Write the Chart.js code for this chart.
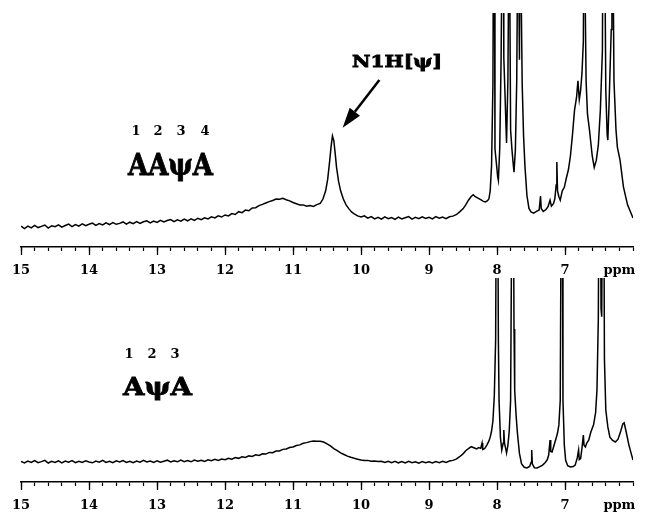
<!DOCTYPE html>
<html lang="en">
  <head>
    <meta charset="UTF-8" />
    <title>1H NMR imino region</title>
    <script src="https://cdn.jsdelivr.net/npm/chart.js@4.4.0/dist/chart.umd.min.js"></script>
    <style>
      body { margin: 0; background: #fff; }
      canvas { position: absolute; left: 0; }
      #top { top: 0; }
      #bottom { top: 270px; }
    </style>
  </head>
  <body>
    <canvas id="top" width="645" height="280"></canvas>
    <canvas id="bottom" width="645" height="245"></canvas>

    <script>
      // ppm range of both spectra (axis runs right to left)
      const ppmMax = 15;
      const ppmMin = 6;
      const majorTicks = [15, 14, 13, 12, 11, 10, 9, 8, 7];
      const unitLabel = "ppm";
      const unitTickAt = 6.2;

      // [ppm, intensity] (AAψA); 150 = off scale
      const spectrumAApsiA = [
        [15.0, 8.9], [14.95, 7.9], [14.9, 8.9], [14.85, 8.2], [14.8, 9.2], [14.75, 8.3], [14.7, 8.8], [14.65, 9.4],
        [14.6, 8.1], [14.55, 9.1], [14.5, 8.7], [14.45, 9.5], [14.4, 8.5], [14.35, 9.2], [14.3, 9.8], [14.25, 8.7],
        [14.2, 9.6], [14.15, 8.9], [14.1, 9.9], [14.05, 9.1], [14.0, 9.7], [13.95, 10.2], [13.9, 9.2], [13.85, 10.0],
        [13.8, 9.4], [13.75, 10.3], [13.7, 9.6], [13.65, 10.4], [13.6, 9.7], [13.55, 10.1], [13.5, 10.7], [13.45, 9.8],
        [13.4, 10.6], [13.35, 10.0], [13.3, 10.9], [13.25, 10.1], [13.2, 10.8], [13.15, 11.2], [13.1, 10.3], [13.05, 11.1],
        [13.0, 10.5], [12.95, 11.4], [12.9, 10.7], [12.85, 11.3], [12.8, 11.7], [12.75, 10.8], [12.7, 11.6], [12.65, 11.0],
        [12.6, 11.9], [12.55, 11.2], [12.5, 12.0], [12.45, 11.4], [12.4, 12.3], [12.35, 11.7], [12.3, 12.5], [12.25, 12.0],
        [12.2, 12.9], [12.15, 12.4], [12.1, 13.3], [12.05, 12.8], [12.0, 13.7], [11.95, 13.3], [11.9, 14.3], [11.85, 13.9],
        [11.8, 15.1], [11.75, 14.7], [11.7, 15.8], [11.65, 15.5], [11.6, 16.7], [11.55, 16.8], [11.5, 17.7], [11.45, 18.2],
        [11.4, 18.8], [11.35, 19.4], [11.3, 19.9], [11.25, 20.5], [11.2, 20.4], [11.15, 20.8], [11.1, 20.2], [11.05, 19.7],
        [11.0, 19.0], [10.95, 18.5], [10.9, 18.0], [10.85, 18.0], [10.8, 17.4], [10.75, 17.7], [10.7, 17.3], [10.65, 18.1],
        [10.6, 18.6], [10.56, 20.5], [10.52, 24.0], [10.49, 29.0], [10.46, 37.0], [10.44, 43.0], [10.42, 47.5], [10.4, 45.5],
        [10.38, 40.0], [10.36, 34.0], [10.33, 28.0], [10.3, 24.0], [10.26, 20.5], [10.22, 18.0], [10.18, 16.4], [10.14, 15.0],
        [10.1, 14.2], [10.05, 13.3], [10.0, 12.8], [9.95, 13.3], [9.9, 12.3], [9.85, 13.0], [9.8, 12.0], [9.75, 12.7],
        [9.7, 11.9], [9.65, 12.9], [9.6, 12.1], [9.55, 12.6], [9.5, 11.8], [9.45, 12.8], [9.4, 12.0], [9.35, 12.5],
        [9.3, 13.0], [9.25, 11.9], [9.2, 12.7], [9.15, 12.1], [9.1, 12.9], [9.05, 12.2], [9.0, 12.7], [8.95, 12.0],
        [8.9, 13.0], [8.85, 12.3], [8.8, 12.8], [8.75, 12.1], [8.7, 12.9], [8.65, 13.2], [8.6, 13.8], [8.55, 15.0],
        [8.5, 16.3], [8.46, 18.0], [8.42, 20.0], [8.38, 21.6], [8.35, 22.3], [8.32, 21.5], [8.28, 20.9], [8.24, 20.2],
        [8.2, 19.5], [8.17, 19.3], [8.14, 19.8], [8.12, 20.5], [8.1, 24.0], [8.08, 35.0], [8.06, 70.0], [8.05, 150],
        [8.04, 150], [8.03, 42.0], [8.01, 36.0], [7.99, 30.0], [7.98, 28.5], [7.96, 42.0], [7.94, 80.0], [7.92, 150],
        [7.91, 150], [7.9, 81.0], [7.88, 63.0], [7.86, 44.5], [7.84, 71.0], [7.82, 150], [7.81, 150], [7.8, 50.0],
        [7.78, 41.5], [7.76, 35.0], [7.75, 32.0], [7.73, 41.5], [7.71, 71.0], [7.69, 150], [7.68, 150], [7.67, 80.0],
        [7.66, 150], [7.65, 150], [7.63, 70.0], [7.61, 48.0], [7.59, 35.0], [7.56, 22.0], [7.53, 16.5], [7.5, 15.0],
        [7.46, 14.5], [7.42, 15.2], [7.38, 15.8], [7.36, 21.8], [7.35, 16.5], [7.32, 15.2], [7.28, 16.0], [7.25, 17.2],
        [7.22, 20.0], [7.2, 17.5], [7.17, 18.5], [7.15, 20.5], [7.13, 26.5], [7.12, 36.3], [7.11, 24.0], [7.09, 21.5],
        [7.07, 20.0], [7.04, 24.0], [7.01, 25.5], [6.98, 29.5], [6.95, 33.0], [6.92, 39.0], [6.89, 48.0], [6.86, 58.5],
        [6.83, 64.0], [6.81, 71.0], [6.79, 63.0], [6.77, 67.0], [6.75, 74.5], [6.73, 88.0], [6.72, 150], [6.71, 150],
        [6.69, 71.0], [6.67, 57.0], [6.64, 50.0], [6.6, 39.0], [6.57, 34.0], [6.54, 37.0], [6.51, 43.5], [6.48, 58.5],
        [6.45, 84.0], [6.44, 150], [6.42, 150], [6.4, 67.0], [6.38, 48.0], [6.37, 45.7], [6.35, 63.0], [6.32, 93.0],
        [6.31, 150], [6.3, 150], [6.28, 71.0], [6.25, 50.0], [6.23, 42.7], [6.19, 37.0], [6.14, 25.6], [6.08, 18.0],
        [6.03, 14.5], [6.0, 12.4],
      ];

      // [ppm, intensity] (AψA)
      const spectrumApsiA = [
        [15.0, 10.1], [14.95, 9.4], [14.9, 10.3], [14.85, 9.6], [14.8, 10.5], [14.75, 9.5], [14.7, 10.0], [14.65, 10.6],
        [14.6, 9.3], [14.55, 10.1], [14.5, 9.6], [14.45, 10.4], [14.4, 9.4], [14.35, 10.3], [14.3, 9.7], [14.25, 10.5],
        [14.2, 9.5], [14.15, 10.2], [14.1, 9.6], [14.05, 10.4], [14.0, 9.8], [13.95, 9.4], [13.9, 10.3], [13.85, 9.7],
        [13.8, 10.6], [13.75, 9.6], [13.7, 10.1], [13.65, 9.5], [13.6, 10.4], [13.55, 9.8], [13.5, 10.5], [13.45, 9.6],
        [13.4, 10.2], [13.35, 9.5], [13.3, 10.3], [13.25, 9.7], [13.2, 10.6], [13.15, 9.8], [13.1, 10.3], [13.05, 9.6],
        [13.0, 10.4], [12.95, 9.7], [12.9, 10.2], [12.85, 10.7], [12.8, 9.8], [12.75, 10.4], [12.7, 9.9], [12.65, 10.7],
        [12.6, 10.0], [12.55, 10.5], [12.5, 9.9], [12.45, 10.8], [12.4, 10.2], [12.35, 10.7], [12.3, 10.1], [12.25, 10.9],
        [12.2, 10.4], [12.15, 11.1], [12.1, 10.6], [12.05, 11.3], [12.0, 10.9], [11.95, 11.6], [11.9, 11.2], [11.85, 12.0],
        [11.8, 11.6], [11.75, 12.4], [11.7, 12.0], [11.65, 12.8], [11.6, 12.5], [11.55, 13.3], [11.5, 13.0], [11.45, 13.8],
        [11.4, 13.7], [11.35, 14.5], [11.3, 14.4], [11.25, 15.2], [11.2, 15.2], [11.15, 16.0], [11.1, 16.2], [11.05, 16.9],
        [11.0, 17.2], [10.95, 17.9], [10.9, 18.2], [10.85, 19.0], [10.8, 19.3], [10.75, 19.8], [10.7, 20.1], [10.65, 20.0],
        [10.6, 20.0], [10.55, 19.6], [10.5, 18.7], [10.45, 17.7], [10.4, 16.4], [10.35, 15.4], [10.3, 14.3], [10.25, 13.5],
        [10.2, 12.7], [10.15, 12.1], [10.1, 11.6], [10.05, 11.2], [10.0, 10.8], [9.95, 10.6], [9.9, 10.6], [9.85, 10.2],
        [9.8, 10.3], [9.75, 10.0], [9.7, 10.2], [9.65, 9.6], [9.6, 10.2], [9.55, 9.5], [9.5, 10.1], [9.45, 9.4],
        [9.4, 10.0], [9.35, 9.3], [9.3, 10.1], [9.25, 9.5], [9.2, 9.9], [9.15, 9.2], [9.1, 10.0], [9.05, 9.4],
        [9.0, 9.9], [8.95, 9.3], [8.9, 10.0], [8.85, 9.5], [8.8, 10.2], [8.75, 9.6], [8.7, 10.3], [8.65, 10.6],
        [8.6, 11.2], [8.55, 12.4], [8.5, 13.8], [8.46, 15.3], [8.42, 16.4], [8.38, 17.3], [8.34, 16.8], [8.3, 16.2],
        [8.27, 16.9], [8.24, 16.5], [8.22, 19.1], [8.21, 15.9], [8.18, 16.4], [8.15, 18.1], [8.12, 20.0], [8.1, 22.0],
        [8.08, 25.0], [8.06, 30.0], [8.04, 42.0], [8.02, 70.0], [8.01, 150], [7.99, 150], [7.98, 70.0], [7.97, 40.0],
        [7.95, 22.0], [7.93, 15.7], [7.91, 19.0], [7.9, 25.5], [7.89, 19.0], [7.87, 16.0], [7.86, 14.2], [7.84, 18.0],
        [7.82, 25.0], [7.8, 40.0], [7.78, 150], [7.76, 150], [7.75, 75.0], [7.74, 45.0], [7.72, 33.0], [7.7, 24.0],
        [7.67, 14.0], [7.64, 9.0], [7.6, 7.2], [7.56, 6.9], [7.52, 7.6], [7.5, 9.5], [7.49, 15.7], [7.48, 8.8],
        [7.45, 7.0], [7.41, 6.9], [7.37, 7.5], [7.33, 8.3], [7.29, 9.6], [7.26, 11.0], [7.24, 13.2], [7.22, 20.6],
        [7.21, 15.0], [7.19, 14.7], [7.16, 18.1], [7.13, 21.6], [7.11, 24.0], [7.09, 28.0], [7.07, 40.0], [7.055, 150],
        [7.04, 150], [7.03, 40.0], [7.01, 18.0], [6.99, 10.5], [6.96, 8.0], [6.92, 7.4], [6.88, 7.6], [6.85, 8.3],
        [6.82, 11.8], [6.8, 15.7], [6.79, 11.0], [6.77, 11.5], [6.75, 16.7], [6.73, 23.0], [6.72, 18.0], [6.7, 17.2],
        [6.68, 19.1], [6.65, 20.6], [6.62, 24.5], [6.58, 28.0], [6.55, 34.0], [6.53, 45.0], [6.51, 80.0], [6.5, 150],
        [6.48, 150], [6.47, 85.0], [6.46, 81.0], [6.45, 150], [6.43, 150], [6.42, 60.0], [6.4, 35.3], [6.37, 27.0],
        [6.34, 22.0], [6.3, 20.4], [6.26, 19.6], [6.22, 21.0], [6.18, 25.0], [6.15, 28.5], [6.13, 29.0], [6.1, 24.5],
        [6.06, 18.1], [6.02, 13.2], [6.0, 10.8],
      ];

      const topResidues = ["1", "2", "3", "4"];
      const topName = "AAψA";
      const bottomResidues = ["1", "2", "3"];
      const bottomName = "AψA";
      const peakLabel = "N1H[ψ]";
      // arrow from the label down to the N1H peak, in [ppm, intensity]
      const arrowTail = [9.73, 71.4];
      const arrowTip = [10.27, 51];

      const FONT = '"DejaVu Serif", "Liberation Serif", serif';

      function boldWord(ctx, text, left, baseline, size, width) {
        ctx.save();
        ctx.font = "bold " + size + "px " + FONT;
        const w = ctx.measureText(text).width;
        ctx.translate(left, baseline);
        ctx.scale(width / w, 1);
        ctx.fillStyle = "#000";
        ctx.strokeStyle = "#000";
        ctx.lineWidth = 0.8;
        ctx.textBaseline = "alphabetic";
        ctx.fillText(text, 0, 0);
        ctx.strokeText(text, 0, 0);
        ctx.restore();
      }

      function digits(ctx, list, xs, baseline) {
        ctx.save();
        ctx.font = "bold 13px " + FONT;
        ctx.fillStyle = "#000";
        ctx.textAlign = "center";
        list.forEach((d, i) => ctx.fillText(d, xs[i], baseline));
        ctx.restore();
      }

      // longer marks at whole ppm values
      const majorTickPlugin = {
        id: "majorTicks",
        afterDraw(chart) {
          const s = chart.scales.x;
          const ctx = chart.ctx;
          ctx.save();
          ctx.strokeStyle = "#000";
          ctx.lineWidth = 1.3;
          majorTicks.forEach((v) => {
            const x = Math.round(s.getPixelForValue(v)) + 0.5;
            ctx.beginPath();
            ctx.moveTo(x, s.top);
            ctx.lineTo(x, s.top + 8);
            ctx.stroke();
          });
          ctx.restore();
        },
      };

      function makeOptions(padTop) {
        return {
          responsive: false,
          animation: false,
          layout: { padding: { top: padTop, left: 16, right: 2, bottom: 3 } },
          plugins: { legend: { display: false }, tooltip: { enabled: false } },
          scales: {
            x: {
              type: "linear",
              reverse: true,
              min: ppmMin,
              max: ppmMax,
              afterFit: (scale) => { scale.height = 30; },
              border: { display: true, color: "#000", width: 1.5 },
              grid: { drawOnChartArea: false, drawTicks: true, tickLength: 4, tickColor: "#000", tickWidth: 1.2 },
              ticks: {
                stepSize: 0.2,
                autoSkip: false,
                maxRotation: 0,
                padding: 12,
                color: "#000",
                font: { family: FONT, weight: "bold", size: 13 },
                callback: (v) => {
                  const r = Math.round(v * 10) / 10;
                  if (majorTicks.includes(r)) return String(r);
                  if (Math.abs(r - unitTickAt) < 0.01) return unitLabel;
                  return "";
                },
              },
            },
            y: { display: false, min: 0, max: 100 },
          },
        };
      }

      function dataset(points) {
        return {
          data: points.map((p) => ({ x: p[0], y: p[1] })),
          borderColor: "#000",
          borderWidth: 1.5,
          pointRadius: 0,
          tension: 0,
        };
      }

      new Chart(document.getElementById("top"), {
        type: "line",
        data: { datasets: [dataset(spectrumAApsiA)] },
        options: makeOptions(13),
        plugins: [
          majorTickPlugin,
          {
            id: "topText",
            afterDraw(chart) {
              const ctx = chart.ctx;
              const sx = chart.scales.x;
              const sy = chart.scales.y;
              digits(ctx, topResidues, [136, 158, 181, 205], 135);
              boldWord(ctx, topName, 128, 175, 30, 85);
              boldWord(ctx, peakLabel, 352, 67, 17, 90);

              const x0 = sx.getPixelForValue(arrowTail[0]);
              const y0 = sy.getPixelForValue(arrowTail[1]);
              const x1 = sx.getPixelForValue(arrowTip[0]);
              const y1 = sy.getPixelForValue(arrowTip[1]);
              const a = Math.atan2(y1 - y0, x1 - x0);
              const head = 20;
              const half = 6.5;
              const bx = x1 - head * Math.cos(a);
              const by = y1 - head * Math.sin(a);
              ctx.save();
              ctx.strokeStyle = "#000";
              ctx.fillStyle = "#000";
              ctx.lineWidth = 2.5;
              ctx.beginPath();
              ctx.moveTo(x0, y0);
              ctx.lineTo(bx, by);
              ctx.stroke();
              ctx.beginPath();
              ctx.moveTo(x1, y1);
              ctx.lineTo(bx + half * Math.sin(a), by - half * Math.cos(a));
              ctx.lineTo(bx - half * Math.sin(a), by + half * Math.cos(a));
              ctx.closePath();
              ctx.fill();
              ctx.restore();
            },
          },
        ],
      });

      new Chart(document.getElementById("bottom"), {
        type: "line",
        data: { datasets: [dataset(spectrumApsiA)] },
        options: makeOptions(8),
        plugins: [
          majorTickPlugin,
          {
            id: "bottomText",
            afterDraw(chart) {
              const ctx = chart.ctx;
              digits(ctx, bottomResidues, [129, 152, 175], 88);
              boldWord(ctx, bottomName, 123, 125, 25, 69);
            },
          },
        ],
      });
    </script>
  </body>
</html>
